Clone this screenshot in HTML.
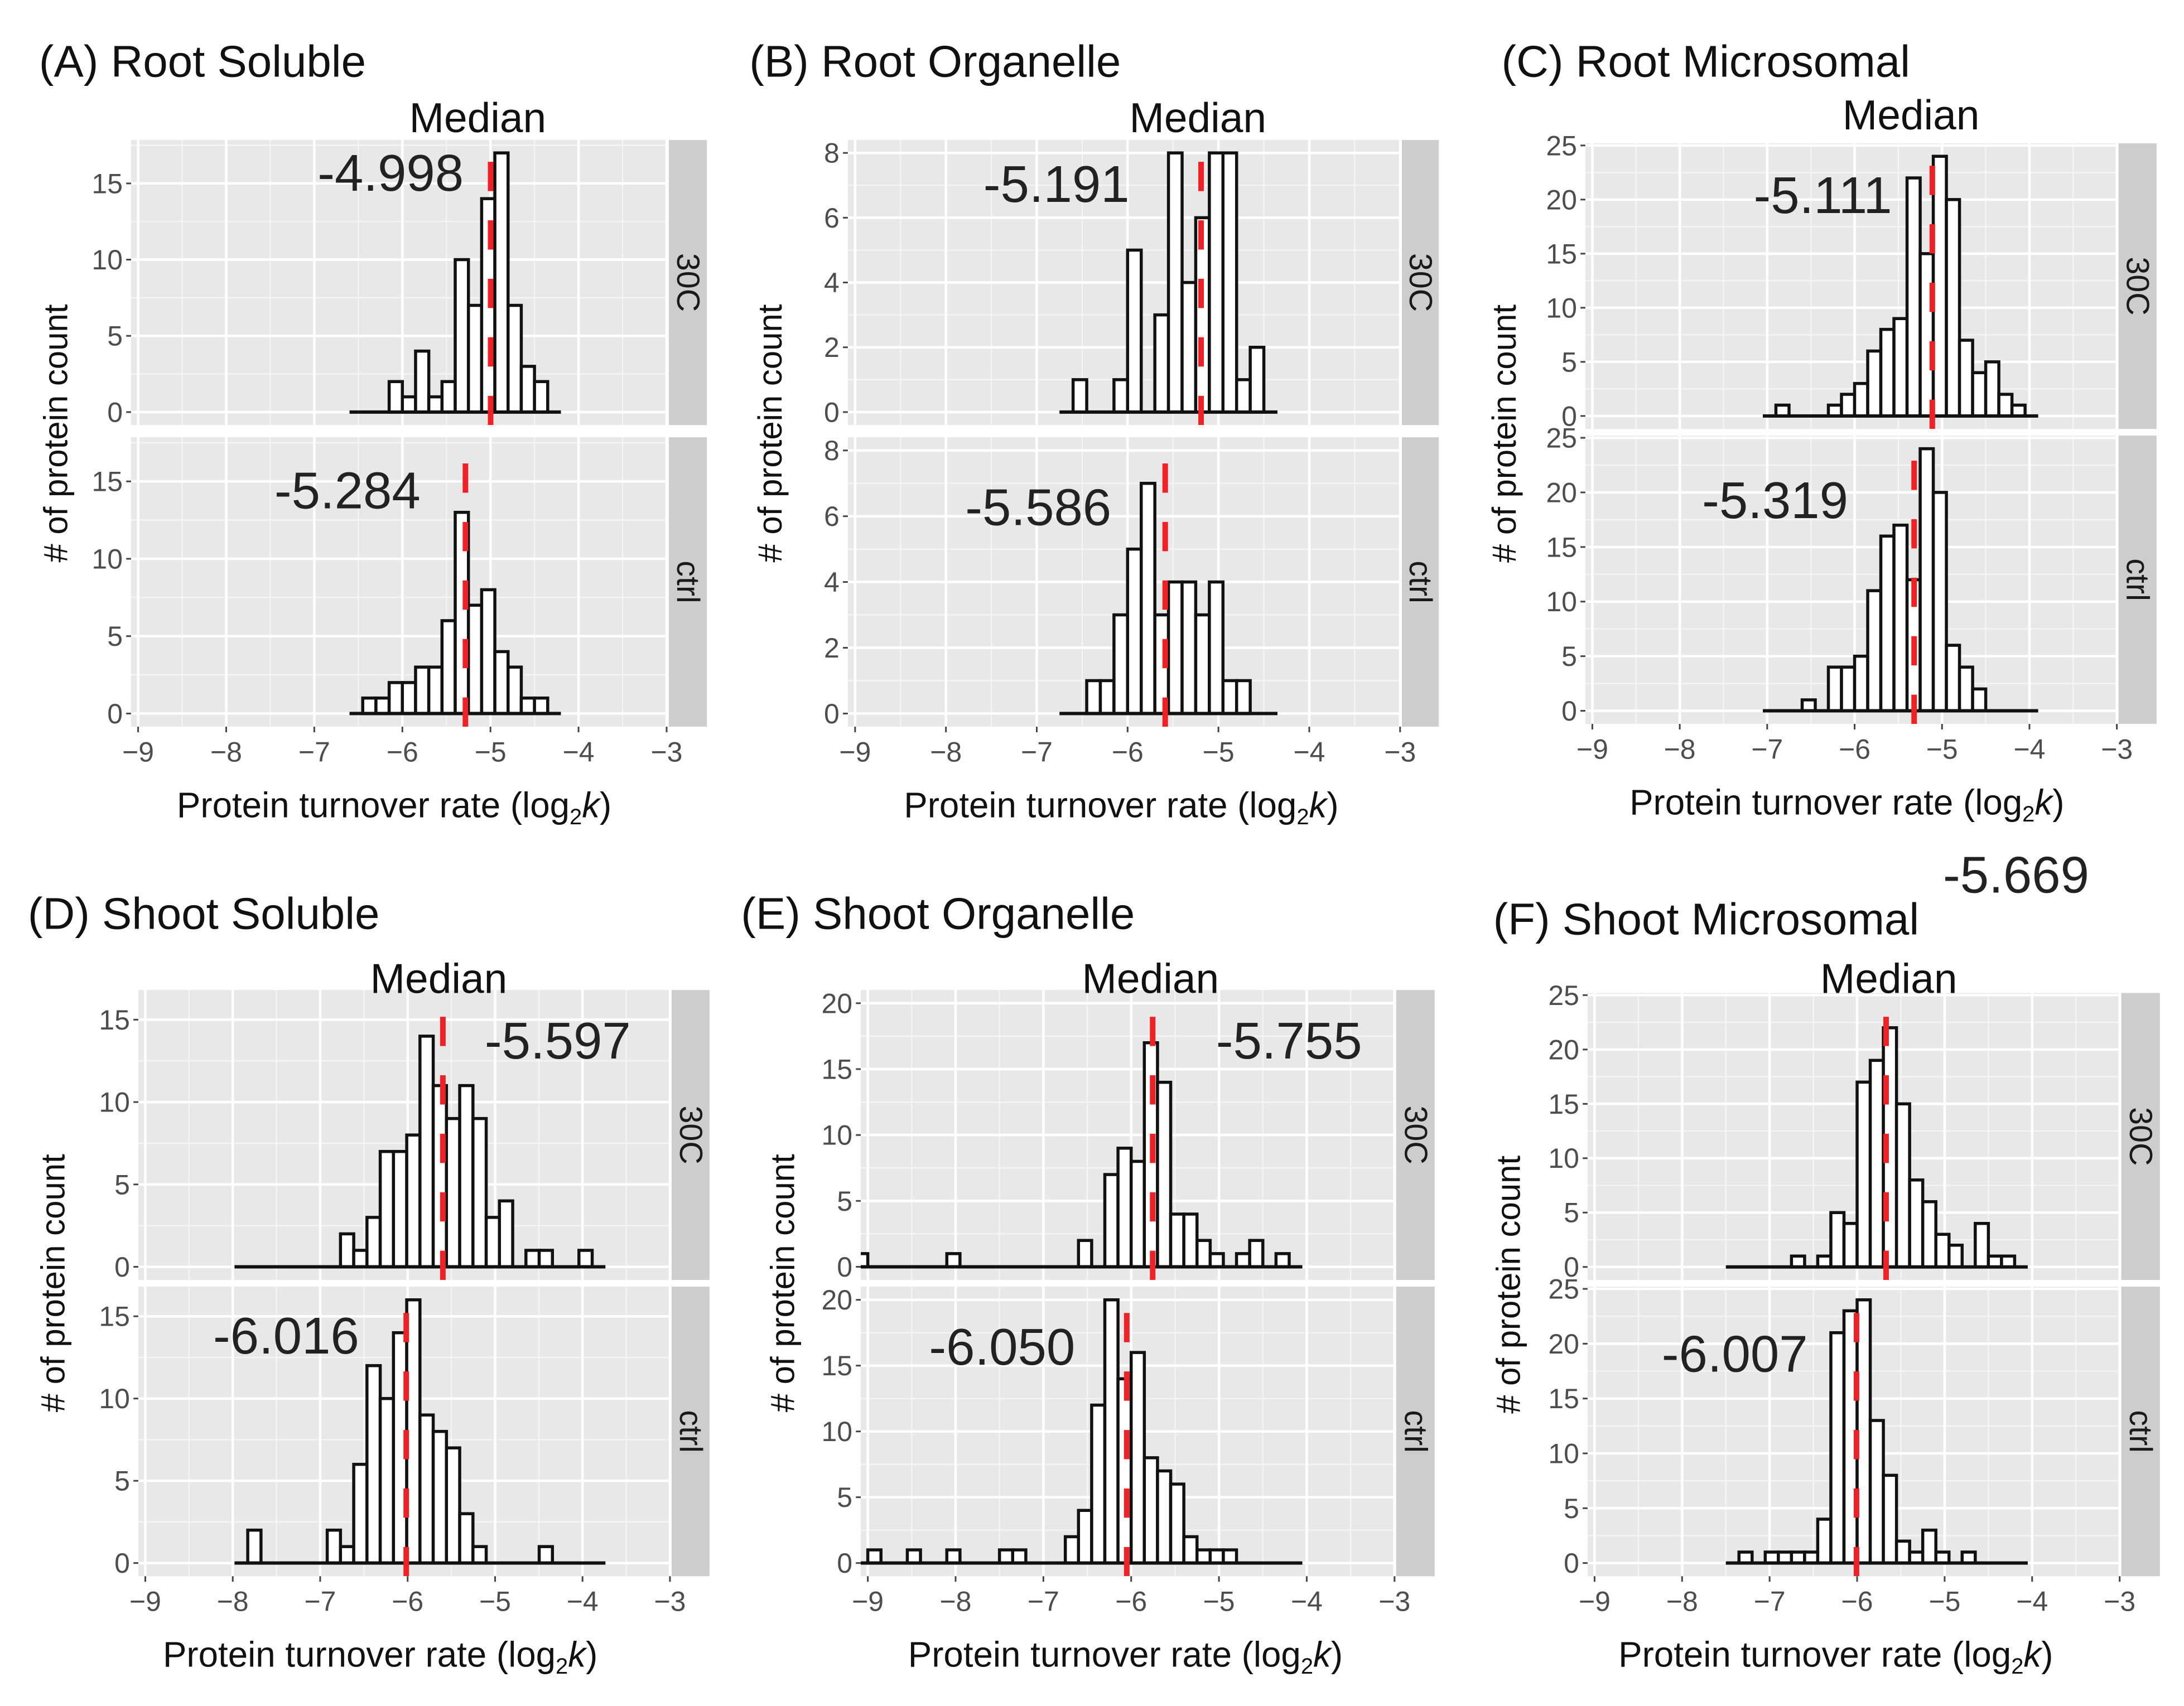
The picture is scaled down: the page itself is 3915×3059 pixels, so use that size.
<!DOCTYPE html>
<html><head><meta charset="utf-8"><style>
html,body{margin:0;padding:0;background:#fff;}
svg{display:block;font-family:"Liberation Sans",Arial,sans-serif;}
</style></head><body>
<svg id="fig" width="3915" height="3059" viewBox="0 0 1568 1225" preserveAspectRatio="none" xmlns="http://www.w3.org/2000/svg"></svg>
<script>
// ---- data ----
const panelTitles = ["(A) Root Soluble","(B) Root Organelle","(C) Root Microsomal","(D) Shoot Soluble","(E) Shoot Organelle","(F) Shoot Microsomal"];
const binStarts = [-6.6,-6.75,-7.05,-7.98,-9.15,-7.5];
const binWidths = [0.15,0.15,0.15,0.1515,0.15,0.15];
const countsA30C = [0,0,0,2,1,4,1,2,10,7,14,17,7,3,2,0];
const countsActrl = [0,1,1,2,2,3,3,6,13,7,8,4,3,1,1,0];
const countsB30C = [0,1,0,0,1,5,0,3,8,4,6,8,8,1,2,0];
const countsBctrl = [0,0,1,1,3,5,7,3,4,4,3,4,1,1,0,0];
const countsC30C = [0,1,0,0,0,1,2,3,6,8,9,22,15,24,20,7,4,5,2,1,0];
const countsCctrl = [0,0,0,1,0,4,4,5,11,16,17,12,24,20,6,4,2,0,0,0,0];
const countsD30C = [0,0,0,0,0,0,0,0,2,1,3,7,7,8,14,11,9,11,9,3,4,0,1,1,0,0,1,0];
const countsDctrl = [0,2,0,0,0,0,0,2,1,6,12,10,14,16,9,8,7,3,1,0,0,0,0,1,0,0,0,0];
const countsE30C = [1,0,0,0,0,0,0,1,0,0,0,0,0,0,0,0,0,2,0,7,9,8,17,14,4,4,2,1,0,1,2,0,1,0];
const countsEctrl = [0,1,0,0,1,0,0,1,0,0,0,1,1,0,0,0,2,4,12,20,14,16,8,7,6,2,1,1,1,0,0,0,0,0];
const countsF30C = [0,0,0,0,0,1,0,1,5,4,17,19,22,15,8,6,3,2,0,4,1,1,0];
const countsFctrl = [0,1,0,1,1,1,1,4,21,23,24,13,8,2,1,3,1,0,1,0,0,0,0];
const medians30C = [-4.998,-5.191,-5.111,-5.597,-5.755,-5.669];
const mediansCtrl = [-5.284,-5.586,-5.319,-6.016,-6.050,-6.007];
const medianLabels30C = ["-4.998","-5.191","-5.111","-5.597","-5.755","-5.669"];
const medianLabelsCtrl = ["-5.284","-5.586","-5.319","-6.016","-6.050","-6.007"];
const yTickSets = [[0,5,10,15],[0,2,4,6,8],[0,5,10,15,20,25],[0,5,10,15],[0,5,10,15,20],[0,5,10,15,20,25]];
const yMaxCounts = [17,8,24,16,20,24];
const xTicks = [-9,-8,-7,-6,-5,-4,-3];
const xTickLabels = ["\u22129","\u22128","\u22127","\u22126","\u22125","\u22124","\u22123"];
const facetLabels = ["30C","ctrl"];
const counts30C = [countsA30C,countsB30C,countsC30C,countsD30C,countsE30C,countsF30C];
const countsCtrl = [countsActrl,countsBctrl,countsCctrl,countsDctrl,countsEctrl,countsFctrl];

// ---- layout (display units) ----
const layout = [
 {L:94.1,R:478.6,f:[[100.5,305.2],[314,521.8]],S:[480.2,507.5],title:[28,55],med:[343,95],lab30:[228,137],labC:[197,365],xt:283,yt:40},
 {L:608.7,R:1005.2,f:[[100.5,305.2],[314,521.8]],S:[1006.5,1033],title:[538,55],med:[860,95],lab30:[706,145],labC:[693,377],xt:805,yt:553},
 {L:1138.2,R:1519.8,f:[[102.9,308],[312.8,519.8]],S:[1521,1548.3],title:[1078,55],med:[1372,93],lab30:[1259,153],labC:[1222,372],xt:1326,yt:1080},
 {L:99.3,R:481,f:[[710.9,919.1],[923.9,1131.8]],S:[482.2,509.4],title:[20,667],med:[315,713],lab30:[348,760],labC:[153,972],xt:273,yt:38},
 {L:618,R:1001.2,f:[[710.9,919.1],[923.9,1131.8]],S:[1002.4,1030],title:[532,667],med:[826,713],lab30:[873,760],labC:[667,980],xt:808,yt:562},
 {L:1139.8,R:1521.8,f:[[713,919.1],[923.9,1131.8]],S:[1523,1550.7],title:[1072,671],med:[1356,713],lab30:[1395,641],labC:[1193,985],xt:1318,yt:1083}
];
const XMIN=-9.08, XMAX=-3.0;
const NS="http://www.w3.org/2000/svg";
const svg=document.getElementById('fig');
function mk(tag,attrs,parent,text){const e=document.createElementNS(NS,tag);for(const k in attrs)e.setAttribute(k,attrs[k]);if(text!==undefined)e.textContent=text;(parent||svg).appendChild(e);return e;}
const defs=mk('defs',{});

layout.forEach((P,pi)=>{
  const g=mk('g',{});
  
  
  const xs=v=>P.L+(v-XMIN)/(XMAX-XMIN)*(P.R-P.L);
  const M=yMaxCounts[pi], ylo=-0.05*M, yhi=1.05*M;
  const t=mk('text',{x:P.title[0],y:P.title[1],'font-size':32,fill:'#111'},g,panelTitles[pi]);
  
  
  [0,1].forEach(fi=>{
    const T=P.f[fi][0],B=P.f[fi][1];
    const ys=v=>B-(v-ylo)/(yhi-ylo)*(B-T);
    const fg=mk('g',{},g);
    
    
    const bg=mk('rect',{x:P.L,y:T,width:P.R-P.L,height:B-T,fill:'#e8e8e8'},fg);
    
    
    for(let i=0;i<xTicks.length-1;i++){const v=(xTicks[i]+xTicks[i+1])/2;mk('line',{x1:xs(v),x2:xs(v),y1:T,y2:B,stroke:'#f5f5f5','stroke-width':0.9},fg);}
    const yt=yTickSets[pi];const st=yt[1]-yt[0];
    for(let v=yt[0]+st/2;v<yhi;v+=st){mk('line',{x1:P.L,x2:P.R,y1:ys(v),y2:ys(v),stroke:'#f5f5f5','stroke-width':0.9},fg);}
    xTicks.forEach(v=>{if(v>=XMIN&&v<=XMAX)mk('line',{x1:xs(v),x2:xs(v),y1:T,y2:B,stroke:'#fff','stroke-width':1.8},fg);});
    yt.forEach(v=>{mk('line',{x1:P.L,x2:P.R,y1:ys(v),y2:ys(v),stroke:'#fff','stroke-width':1.8},fg);
      mk('line',{x1:P.L-3.5,x2:P.L,y1:ys(v),y2:ys(v),stroke:'#444','stroke-width':1.2},fg);
      const lb=mk('text',{x:P.L-6,y:ys(v)+7,'font-size':20,fill:'#4d4d4d','text-anchor':'end'},fg,String(v));
      
      
    });
    const cid='clip'+pi+'_'+fi;
    const cp=mk('clipPath',{id:cid},defs);mk('rect',{x:P.L,y:T,width:P.R-P.L,height:B-T},cp);
    const hg=mk('g',{'clip-path':'url(#'+cid+')'},fg);
    
    
    const counts=fi===0?counts30C[pi]:countsCtrl[pi];
    const s=binStarts[pi],bw=binWidths[pi];
    counts.forEach((c,k)=>{
      if(c>0){
        const r=mk('rect',{x:xs(s+k*bw),y:ys(c),width:xs(s+(k+1)*bw)-xs(s+k*bw),height:ys(0)-ys(c),fill:'#fff',stroke:'#111','stroke-width':2.2},hg);
        
        
      }
    });
    const bl=mk('line',{x1:xs(s),x2:xs(s+counts.length*bw),y1:ys(0),y2:ys(0),stroke:'#111','stroke-width':2.4},hg);
    
    
    const mv=fi===0?medians30C[pi]:mediansCtrl[pi];
    const ml=mk('line',{x1:xs(mv),x2:xs(mv),y1:B,y2:T,stroke:'#ee2226','stroke-width':4,'stroke-dasharray':'21 21'},hg);
    
    
    const sr=mk('rect',{x:P.S[0],y:T,width:P.S[1]-P.S[0],height:B-T,fill:'#cdcdcd'},fg);
    
    
    const cx=(P.S[0]+P.S[1])/2, cy=(T+B)/2;
    const stx=mk('text',{x:cx,y:cy,'font-size':23,fill:'#1a1a1a','text-anchor':'middle','dominant-baseline':'central',transform:'rotate(90 '+cx+' '+cy+')'},fg,facetLabels[fi]);
    
    
    const lp=fi===0?P.lab30:P.labC;
    const mt=mk('text',{x:lp[0],y:lp[1],'font-size':37,fill:'#222'},g,fi===0?medianLabels30C[pi]:medianLabelsCtrl[pi]);
    
    
    if(fi===1){
      xTicks.forEach((v,i)=>{
        mk('line',{x1:xs(v),x2:xs(v),y1:B,y2:B+4,stroke:'#444','stroke-width':1.2},fg);
        const xl=mk('text',{x:xs(v),y:B+25,'font-size':20,fill:'#4d4d4d','text-anchor':'middle'},fg,xTickLabels[i]);
        
        
      });
      const xt=mk('text',{x:P.xt,y:B+65,'font-size':25.5,fill:'#111','text-anchor':'middle'},g);
      
      
      mk('tspan',{},xt,'Protein turnover rate (log');
      mk('tspan',{'font-size':16,dy:5},xt,'2');
      mk('tspan',{'font-style':'italic',dy:-5},xt,'k');
      mk('tspan',{},xt,')');
    }
  });
  const md=mk('text',{x:P.med[0],y:P.med[1],'font-size':30,fill:'#111','text-anchor':'middle'},g,'Median');
  
  
  const ycy=(P.f[0][0]+P.f[1][1])/2;
  const yt2=mk('text',{x:P.yt,y:ycy,'font-size':24,fill:'#111','text-anchor':'middle','dominant-baseline':'central',transform:'rotate(-90 '+P.yt+' '+ycy+')'},g,'# of protein count');
  
  
});
</script>
</body></html>
